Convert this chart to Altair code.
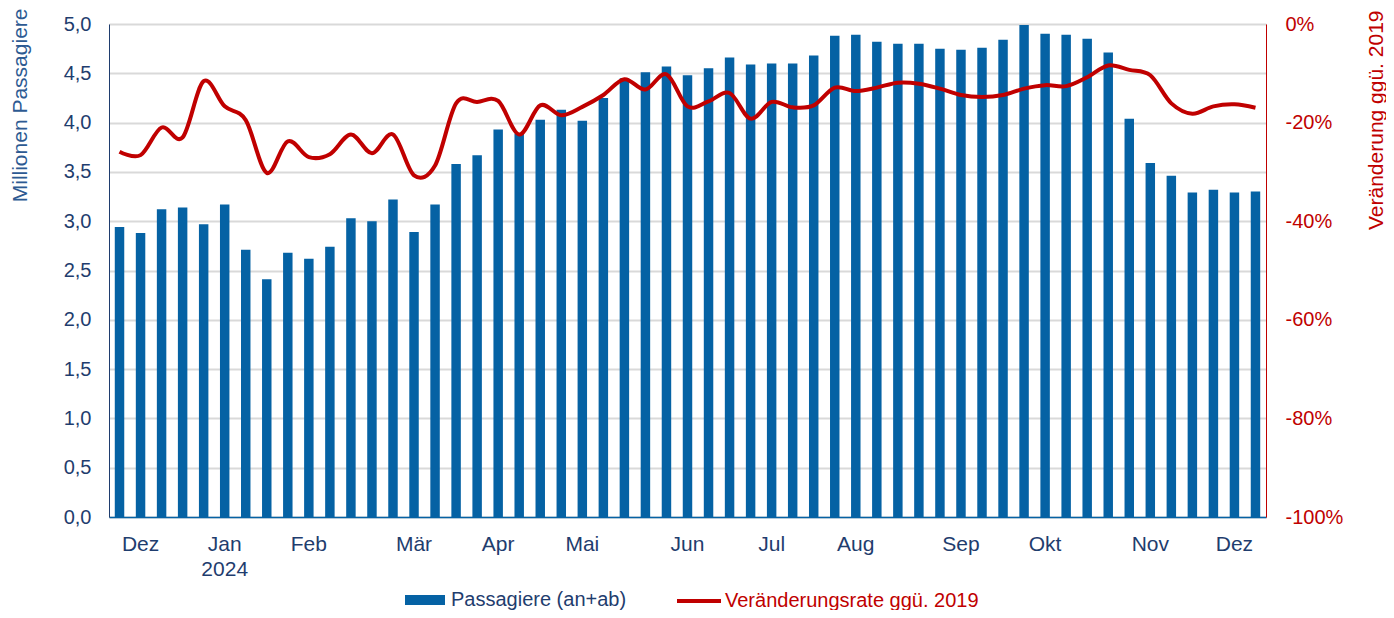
import altair as alt
import pandas as pd

# --- data -------------------------------------------------------------
weeks = list(range(1, 56))
passagiere = [2.94, 2.88, 3.12, 3.14, 2.97, 3.17, 2.71, 2.41, 2.68, 2.62,
              2.74, 3.03, 3.00, 3.22, 2.89, 3.17, 3.58, 3.67, 3.93, 3.89,
              4.03, 4.13, 4.02, 4.25, 4.45, 4.51, 4.57, 4.48, 4.55, 4.66,
              4.59, 4.60, 4.60, 4.68, 4.88, 4.89, 4.82, 4.80, 4.80, 4.75,
              4.74, 4.76, 4.84, 4.99, 4.90, 4.89, 4.85, 4.71, 4.04, 3.59,
              3.46, 3.29, 3.32, 3.29, 3.30]
veraenderung = [-25.9, -26.6, -21.0, -23.0, -11.6, -16.7, -19.5, -30.2, -23.8, -27.0,
                -26.4, -22.4, -26.2, -22.4, -30.7, -28.7, -16.1, -15.8, -15.6, -22.4,
                -16.5, -18.5, -16.8, -14.4, -11.2, -13.3, -10.2, -16.7, -15.7, -14.0,
                -19.2, -15.8, -16.9, -16.5, -12.9, -13.6, -12.9, -11.9, -12.1, -13.1,
                -14.4, -14.8, -14.4, -13.1, -12.4, -12.6, -10.8, -8.4, -9.3, -10.4,
                -16.1, -18.2, -16.7, -16.3, -17.0]
month_names = ["Dez", "Jan", "Feb", "Mär", "Apr", "Mai", "Jun", "Jul",
               "Aug", "Sep", "Okt", "Nov", "Dez"]
month_weeks = [2, 6, 10, 15, 19, 23, 28, 32, 36, 41, 45, 50, 54]
year_label = {"Jan": "2024"}

bar_name = "Passagiere (an+ab)"
line_name = "Veränderungsrate ggü. 2019"

df = pd.DataFrame({"woche": weeks, "passagiere": passagiere, "pct": veraenderung})

# --- styling ----------------------------------------------------------
FONT = "Liberation Sans"
BLUE = "#0562A4"
DARK = "#1F3D6E"
TITLE_BLUE = "#2D5A92"
RED = "#C00000"

# x label expression (month names at chosen weeks, year on second line)
parts = []
for m, w in zip(month_names, month_weeks):
    if m in year_label:
        parts.append(f"datum.value == {w} ? ['{m}', '{year_label[m]}']")
    else:
        parts.append(f"datum.value == {w} ? '{m}'")
label_expr = " : ".join(parts) + " : ''"

x_enc = alt.X(
    "woche:O",
    scale=alt.Scale(paddingInner=0.55, paddingOuter=0.275),
    axis=alt.Axis(
        title=None, labelExpr=label_expr, labelAngle=0, ticks=False,
        labelFont=FONT, labelFontSize=21, labelColor=DARK, labelPadding=16,
        labelLineHeight=25, labelBaseline="top", labelOverlap=False,
        domainColor=BLUE, domainWidth=1.5, grid=False,
    ),
)

bars = alt.Chart(df).transform_calculate(serie=f"'{bar_name}'").mark_bar(
    color=BLUE
).encode(
    x=x_enc,
    y=alt.Y(
        "passagiere:Q",
        scale=alt.Scale(domain=[0, 5], nice=False),
        axis=alt.Axis(
            title="Millionen Passagiere", values=[i / 2 for i in range(11)],
            labelExpr="replace(format(datum.value, '.1f'), '.', ',')",
            ticks=False, labelFont=FONT, labelFontSize=20, labelColor=DARK,
            labelPadding=18, domainColor=DARK, domainWidth=1,
            grid=True, gridColor="#D9D9D9", gridWidth=2,
            titleFont=FONT, titleFontSize=21, titleFontWeight="normal",
            titleColor=TITLE_BLUE, titleAngle=270, titleAlign="right",
            titleBaseline="middle", titleX=-89, titleY=-16,
        ),
    ),
    fill=alt.Fill(
        "serie:N",
        scale=alt.Scale(domain=[bar_name], range=[BLUE]),
        legend=alt.Legend(
            title=None, orient="none", legendX=296, legendY=556, padding=0,
            symbolType="M-1,-0.25H1V0.25H-1Z", symbolSize=1600,
            symbolStrokeWidth=0, labelFont=FONT, labelFontSize=20,
            labelColor=DARK, labelOffset=6, labelLimit=0,
        ),
    ),
)

line = alt.Chart(df).transform_calculate(serie=f"'{line_name}'").mark_line(
    strokeWidth=4, interpolate="cardinal"
).encode(
    x=alt.X("woche:O"),
    y=alt.Y(
        "pct:Q",
        scale=alt.Scale(domain=[-100, 0], nice=False),
        axis=alt.Axis(
            title="Veränderung ggü. 2019", orient="right",
            values=[0, -20, -40, -60, -80, -100],
            labelExpr="datum.value == 0 ? '0%' : '-' + format(abs(datum.value), '.0f') + '%'",
            ticks=False, labelFont=FONT, labelFontSize=20, labelColor=RED,
            labelPadding=19, domainColor=RED, domainWidth=1, grid=False,
            titleFont=FONT, titleFontSize=21, titleFontWeight="normal",
            titleColor=RED, titleAngle=270, titleAlign="right",
            titleBaseline="middle", titleX=110, titleY=-14,
        ),
    ),
    stroke=alt.Stroke(
        "serie:N",
        scale=alt.Scale(domain=[line_name], range=[RED]),
        legend=alt.Legend(
            title=None, orient="none", legendX=566, legendY=553, padding=0,
            symbolType="stroke", symbolSize=1936, symbolStrokeWidth=4,
            labelFont=FONT, labelFontSize=20, labelColor=RED, labelOffset=2,
            labelLimit=0,
        ),
    ),
)

chart = alt.layer(bars, line).resolve_scale(
    y="independent", fill="independent", stroke="independent"
).properties(
    width=1157, height=493,
    padding={"left": 101, "top": 16, "right": 120, "bottom": 93},
    autosize=alt.AutoSizeParams(type="none"),
).configure_view(stroke=None).configure(background="white")

chart.save("out.html", embed_options={"renderer": "svg", "actions": False})
